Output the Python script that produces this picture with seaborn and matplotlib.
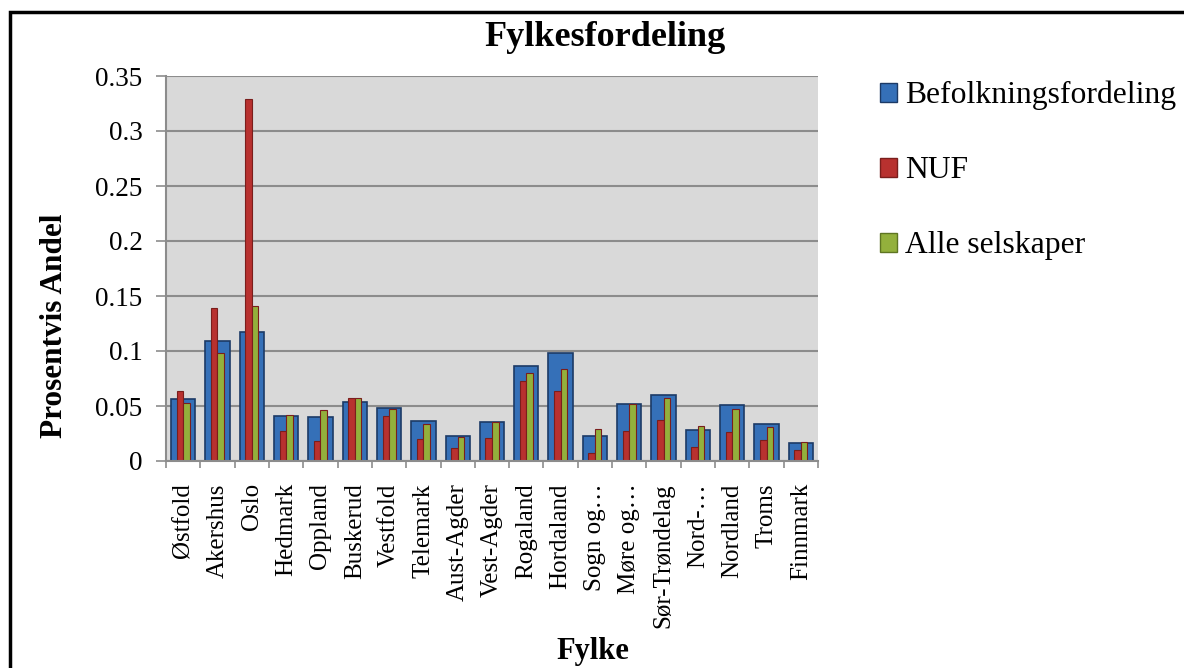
import numpy as np
import pandas as pd
import matplotlib
matplotlib.use("Agg")
import matplotlib.pyplot as plt
from matplotlib.patches import Patch, Rectangle
from matplotlib.ticker import FixedLocator, FuncFormatter
import seaborn as sns

fylker = ["Østfold", "Akershus", "Oslo", "Hedmark", "Oppland", "Buskerud", "Vestfold",
          "Telemark", "Aust-Agder", "Vest-Agder", "Rogaland", "Hordaland", "Sogn og…",
          "Møre og…", "Sør-Trøndelag", "Nord-…", "Nordland", "Troms", "Finnmark"]
befolkning = [0.056, 0.109, 0.117, 0.041, 0.040, 0.0536, 0.048, 0.036, 0.0227, 0.0355,
              0.086, 0.098, 0.0227, 0.052, 0.0597, 0.028, 0.0506, 0.0333, 0.016]
nuf = [0.0636, 0.139, 0.329, 0.027, 0.018, 0.057, 0.0406, 0.020, 0.0115, 0.0206,
       0.0727, 0.064, 0.0076, 0.027, 0.037, 0.0127, 0.026, 0.0188, 0.0097]
alle = [0.053, 0.098, 0.141, 0.042, 0.046, 0.057, 0.047, 0.034, 0.0218, 0.0355,
        0.080, 0.084, 0.029, 0.0515, 0.057, 0.0318, 0.0476, 0.031, 0.0173]
serier = ["Befolkningsfordeling", "NUF", "Alle selskaper"]
y_ticks = [0, 0.05, 0.1, 0.15, 0.2, 0.25, 0.3, 0.35]

plt.rcParams['font.family'] = ['Liberation Serif', 'DejaVu Serif']

blue, blue_e = "#3570B8", "#1C3A66"
red, red_e = "#B8312F", "#7A1E1C"
green, green_e = "#93B03C", "#5E7522"

W, H = 1184, 668
fig = plt.figure(figsize=(W / 100, H / 100), dpi=100)
ax = fig.add_axes([166 / W, 1 - 461 / H, (818 - 166) / W, (461 - 76) / H])
ax.set_facecolor("#D9D9D9")

df_b = pd.DataFrame({"Fylke": fylker, "Andel": befolkning})
sns.barplot(data=df_b, x="Fylke", y="Andel", order=fylker, color=blue, width=0.71,
            saturation=1, edgecolor=blue_e, linewidth=1.2, ax=ax, errorbar=None)

df_l = pd.concat([
    pd.DataFrame({"Fylke": fylker, "Andel": nuf, "Serie": serier[1]}),
    pd.DataFrame({"Fylke": fylker, "Andel": alle, "Serie": serier[2]}),
])
sns.barplot(data=df_l, x="Fylke", y="Andel", hue="Serie", order=fylker,
            hue_order=serier[1:], palette=[red, green], width=0.38, dodge=True,
            saturation=1, edgecolor=[red_e] * len(fylker) + [green_e] * len(fylker),
            linewidth=0.8, ax=ax, legend=False, errorbar=None)

ax.set_ylim(0, 0.35)
ax.set_xlim(-0.5, len(fylker) - 0.5)
ax.set_yticks(y_ticks)
ax.yaxis.set_major_formatter(FuncFormatter(lambda v, p: "%g" % v))
ax.yaxis.grid(True, color="#8C8C8C", lw=1.5)
ax.set_axisbelow(True)
ax.set_xlabel("")
ax.set_ylabel("")
for s in ["top", "right"]:
    ax.spines[s].set_visible(False)
for s in ["left", "bottom"]:
    ax.spines[s].set_color("#8C8C8C")
    ax.spines[s].set_linewidth(1.5)

ax.tick_params(axis="x", which="major", length=0, pad=16, labelsize=18, labelrotation=90)
ax.xaxis.set_minor_locator(FixedLocator(np.arange(-0.5, len(fylker), 1)))
ax.tick_params(axis="x", which="minor", length=5, width=1.2, color="#8C8C8C")
ax.tick_params(axis="y", length=7, width=1.2, color="#8C8C8C", pad=10, labelsize=19.5)
for lbl in ax.get_xticklabels():
    lbl.set_va("top")

fig.text(605 / W, 1 - 37 / H, "Fylkesfordeling", ha="center", va="center",
         fontsize=26, fontweight="bold")
fig.text(55 / W, 1 - 326 / H, "Prosentvis Andel", ha="center", va="center",
         rotation=90, fontsize=22.5, fontweight="bold")
fig.text(593 / W, 1 - 651 / H, "Fylke", ha="center", va="center",
         fontsize=22, fontweight="bold")

handles = [Patch(facecolor=blue, edgecolor=blue_e),
           Patch(facecolor=red, edgecolor=red_e),
           Patch(facecolor=green, edgecolor=green_e)]
fig.legend(handles, serier, loc="upper left", bbox_to_anchor=(880 / W, 1 - 81 / H),
           frameon=False, fontsize=22.8, handlelength=0.55, handleheight=0.55,
           handletextpad=0.25, labelspacing=1.45, borderpad=0, borderaxespad=0)

fig.add_artist(Rectangle((10 / W, -0.2), 1.5, (1 - 12 / H) + 0.2, transform=fig.transFigure,
                         fill=False, lw=2.5, ec="black"))

fig.savefig("out.png", dpi=100)
